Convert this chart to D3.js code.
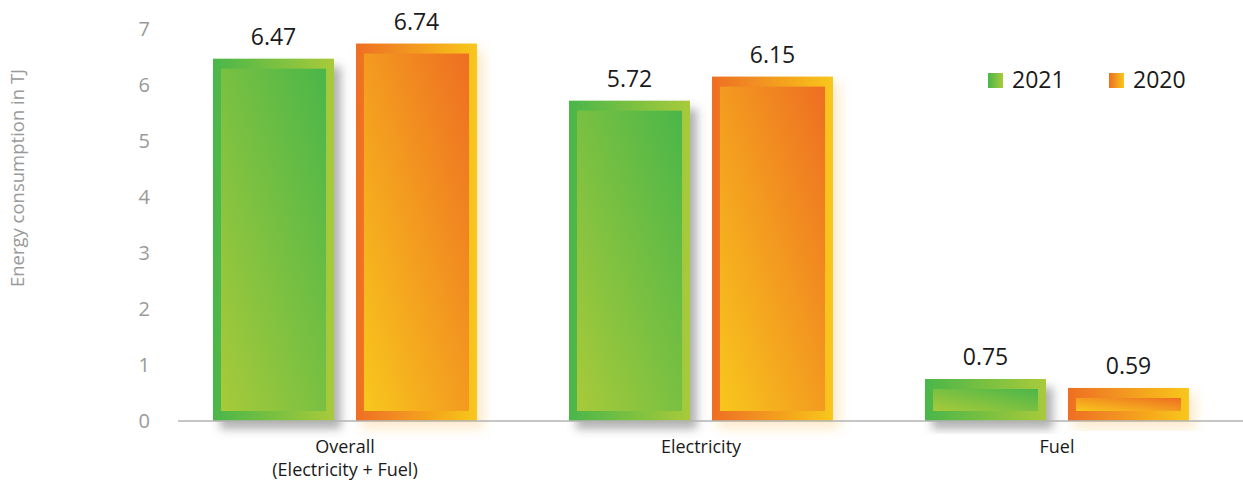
<!DOCTYPE html>
<html>
<head>
<meta charset="utf-8">
<script src="https://cdn.jsdelivr.net/npm/d3@7"></script>
<style>
  body { margin: 0; background: #fff; }
  svg { display: block; font-family: "Open Sans", sans-serif; }
</style>
</head>
<body>
<svg></svg>
<script>
const svgWidth = 1243;
const svgHeight = 480;

// Data
const categories = ["Overall\n(Electricity + Fuel)", "Electricity", "Fuel"];
const years = ["2021", "2020"];
const values2021 = [6.47, 5.72, 0.75];
const values2020 = [6.74, 6.15, 0.59];
const yTicks = [0, 1, 2, 3, 4, 5, 6, 7];

const colors = {
    "2021": { a: "#4ab649", b: "#a8ca3a" },
    "2020": { a: "#ee6e22", b: "#f8c71d" }
};

const svg = d3.select("svg")
    .attr("width", svgWidth)
    .attr("height", svgHeight);

const defs = svg.append("defs");

// gradients: outer bar runs left->right, inner panel runs diagonally
years.forEach(y => {
    const c = colors[y];
    const outer = defs.append("linearGradient")
        .attr("id", "outer" + y)
        .attr("x1", 0).attr("y1", 0).attr("x2", 1).attr("y2", 0);
    outer.append("stop").attr("offset", "0%").attr("stop-color", c.a);
    outer.append("stop").attr("offset", "100%").attr("stop-color", c.b);

    const inner = defs.append("linearGradient")
        .attr("id", "inner" + y)
        .attr("x1", 1).attr("y1", 0).attr("x2", 0).attr("y2", 1);
    inner.append("stop").attr("offset", "0%").attr("stop-color", c.a);
    inner.append("stop").attr("offset", "100%").attr("stop-color", c.b);
});

// shadows
defs.append("filter").attr("id", "shadow2021")
    .attr("x", "-20%").attr("y", "-20%").attr("width", "150%").attr("height", "150%")
    .append("feDropShadow")
    .attr("dx", 7).attr("dy", 8).attr("stdDeviation", 5)
    .attr("flood-color", "#555").attr("flood-opacity", 0.45);
defs.append("filter").attr("id", "shadow2020")
    .attr("x", "-20%").attr("y", "-20%").attr("width", "150%").attr("height", "150%")
    .append("feDropShadow")
    .attr("dx", 6).attr("dy", 7).attr("stdDeviation", 6)
    .attr("flood-color", "#f5a623").attr("flood-opacity", 0.25);

// Scales
const x0 = d3.scaleBand()
    .domain(categories)
    .range([167, 1235])
    .padding(0);

const x1 = d3.scaleBand()
    .domain(years)
    .range([46, 310])
    .paddingInner(0.154)
    .paddingOuter(0);

const yScale = d3.scaleLinear()
    .domain([0, 7])
    .range([421, 29]);

const rows = categories.map((c, i) => ({
    category: c,
    items: [
        { year: "2021", value: values2021[i] },
        { year: "2020", value: values2020[i] }
    ]
}));

// Bars
const groups = svg.selectAll(".group")
    .data(rows)
    .enter()
    .append("g")
    .attr("class", "group")
    .attr("transform", d => `translate(${x0(d.category)},0)`);

const bars = groups.selectAll(".bar")
    .data(d => d.items)
    .enter()
    .append("g")
    .attr("class", "bar");

bars.append("rect")
    .attr("x", d => x1(d.year))
    .attr("y", d => yScale(d.value))
    .attr("width", x1.bandwidth())
    .attr("height", d => yScale(0) - yScale(d.value))
    .attr("fill", d => `url(#outer${d.year})`)
    .attr("filter", d => `url(#shadow${d.year})`);

bars.append("rect")
    .attr("x", d => x1(d.year) + 8)
    .attr("y", d => {
        const h = yScale(0) - yScale(d.value);
        return yScale(d.value) + Math.min(10, h * 0.32);
    })
    .attr("width", x1.bandwidth() - 16)
    .attr("height", d => {
        const h = yScale(0) - yScale(d.value);
        return h - 2 * Math.min(10, h * 0.32);
    })
    .attr("fill", d => `url(#inner${d.year})`);

// Value labels
bars.append("text")
    .attr("x", d => x1(d.year) + x1.bandwidth() / 2)
    .attr("y", d => yScale(d.value) - 14)
    .attr("text-anchor", "middle")
    .style("font-size", "23px")
    .style("fill", "#1a1a1a")
    .text(d => d.value.toFixed(2));

// Baseline
svg.append("line")
    .attr("x1", 178).attr("x2", svgWidth)
    .attr("y1", yScale(0)).attr("y2", yScale(0))
    .attr("stroke", "#b3b3b3")
    .attr("stroke-width", 1.5);

// Y axis
const yAxis = svg.append("g")
    .attr("transform", "translate(153,0)")
    .call(d3.axisLeft(yScale).tickValues(yTicks).tickFormat(d3.format("d")).tickSize(0).tickPadding(3));
yAxis.select(".domain").remove();
yAxis.selectAll("text")
    .style("font-family", "'Open Sans', sans-serif")
    .style("font-size", "20px")
    .style("fill", "#9a9a9a");

// Y axis label
svg.append("text")
    .attr("transform", "translate(24,178) rotate(-90)")
    .attr("text-anchor", "middle")
    .style("font-size", "18.5px")
    .style("fill", "#9a9a9a")
    .text("Energy consumption in TJ");

// Category labels
const catLabels = svg.selectAll(".cat")
    .data(categories)
    .enter()
    .append("text")
    .attr("class", "cat")
    .attr("text-anchor", "middle")
    .attr("x", d => x0(d) + x0.bandwidth() / 2)
    .attr("y", 453)
    .style("font-size", "18px")
    .style("fill", "#1a1a1a");

catLabels.selectAll("tspan")
    .data(d => d.split("\n").map((t, i) => ({ t, i, parent: d })))
    .enter()
    .append("tspan")
    .attr("x", d => x0(d.parent) + x0.bandwidth() / 2)
    .attr("dy", d => d.i === 0 ? 0 : 22.5)
    .text(d => d.t);

// Legend
const legend = svg.append("g")
    .attr("transform", "translate(988,73)");

const legendItems = legend.selectAll(".legend-item")
    .data(years)
    .enter()
    .append("g")
    .attr("class", "legend-item")
    .attr("transform", (d, i) => `translate(${i * 121},0)`);

legendItems.append("rect")
    .attr("width", 15)
    .attr("height", 15)
    .attr("fill", d => `url(#outer${d})`);

legendItems.append("text")
    .attr("x", 24)
    .attr("y", 15)
    .style("font-size", "23px")
    .style("fill", "#1a1a1a")
    .text(d => d);
</script>
</body>
</html>
